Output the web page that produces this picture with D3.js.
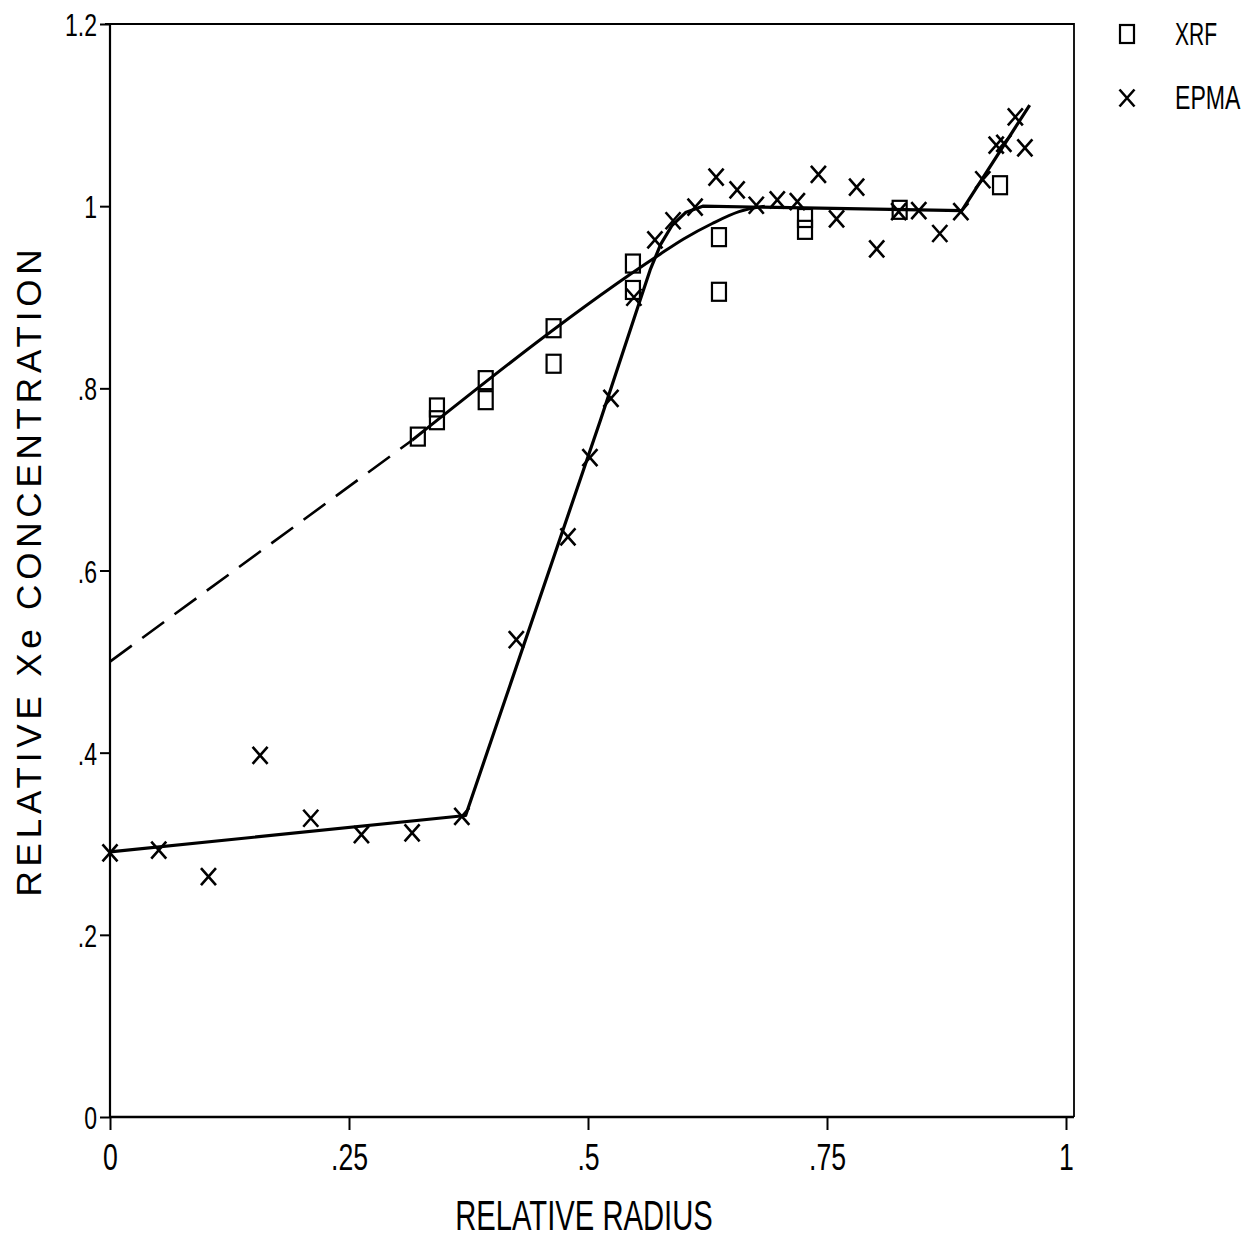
<!DOCTYPE html>
<html>
<head>
<meta charset="utf-8">
<script src="https://cdn.jsdelivr.net/npm/d3@7"></script>
<style>
  body { margin: 0; background: #fff; }
  svg { display: block; }
  text { font-family: "Liberation Sans", Arial, sans-serif; fill: #000; }
  .domain { display: none; }
</style>
</head>
<body>
<div id="graphic"></div>
<script>
// tick values and labels
var xTicks = [0, 0.25, 0.5, 0.75, 1];
var xTickLabels = ["0", ".25", ".5", ".75", "1"];
var yTicks = [0, 0.2, 0.4, 0.6, 0.8, 1, 1.2];
var yTickLabels = ["0", ".2", ".4", ".6", ".8", "1", "1.2"];

// XRF measurements (squares)
var xrfRadius = [0.322, 0.342, 0.342, 0.393, 0.393, 0.464, 0.464, 0.547, 0.547, 0.637, 0.637, 0.727, 0.727, 0.826, 0.931];
var xrfConc = [0.747, 0.779, 0.765, 0.809, 0.787, 0.866, 0.827, 0.937, 0.908, 0.966, 0.906, 0.987, 0.974, 0.996, 1.023];

// EPMA measurements (crosses)
var epmaRadius = [0, 0.051, 0.103, 0.157, 0.210, 0.263, 0.316, 0.368, 0.425, 0.479, 0.502, 0.524, 0.548, 0.570, 0.589,
  0.612, 0.634, 0.656, 0.676, 0.698, 0.719, 0.741, 0.760, 0.781, 0.802, 0.825, 0.846, 0.868, 0.890, 0.913, 0.927, 0.935, 0.947, 0.957];
var epmaConc = [0.290, 0.293, 0.264, 0.397, 0.328, 0.310, 0.312, 0.330, 0.524, 0.637, 0.724, 0.789, 0.900, 0.963, 0.984,
  0.999, 1.032, 1.018, 1.001, 1.007, 1.005, 1.035, 0.986, 1.021, 0.953, 0.994, 0.995, 0.970, 0.994, 1.029, 1.067, 1.069, 1.098, 1.064];

// fitted curves
var xrfDashRadius = [0, 0.316];
var xrfDashConc = [0.500, 0.743];
var xrfFitRadius = [0.316, 0.575, 0.600, 0.630, 0.658, 0.685];
var xrfFitConc = [0.743, 0.947, 0.964, 0.981, 0.994, 1.000];
var epmaFitRadius = [0, 0.372, 0.513, 0.553, 0.565, 0.576, 0.588, 0.602, 0.620, 0.891, 0.962];
var epmaFitConc = [0.291, 0.331, 0.765, 0.892, 0.930, 0.958, 0.979, 0.993, 1.000, 0.995, 1.111];

var legendLabels = ["XRF", "EPMA"];

var width = 1257, height = 1240;
var margin = { top: 24, right: 191, bottom: 123, left: 110 };
var chart_width = width - margin.left - margin.right;
var chart_height = height - margin.top - margin.bottom;

// the scanned lettering is condensed, so squeeze the glyphs horizontally
var narrow = 0.72;

var svg = d3.select('#graphic').append('svg')
  .attr('width', width)
  .attr('height', height);

var g = svg.append('g')
  .attr('transform', 'translate(' + margin.left + ',' + margin.top + ')');

var x = d3.scaleLinear().domain([0, 1]).range([0, chart_width]);
var y = d3.scaleLinear().domain([0, 1.2]).range([chart_height, 0]);

// frame: left axis, bottom axis, top and right edges
g.append('path')
  .attr('d', 'M' + (x(1) + 8) + ',' + y(0) + 'V' + y(1.2) + 'H-5')
  .attr('fill', 'none').attr('stroke', '#000').attr('stroke-width', 1.8);
g.append('line')
  .attr('x1', 0).attr('x2', 0).attr('y1', y(1.2)).attr('y2', y(0))
  .attr('stroke', '#000').attr('stroke-width', 2.2);
g.append('line')
  .attr('x1', 0).attr('x2', x(1) + 8).attr('y1', y(0)).attr('y2', y(0))
  .attr('stroke', '#000').attr('stroke-width', 2.6);

// axes
var yAxis = d3.axisLeft(y)
  .tickValues(yTicks)
  .tickFormat(function(d, i) { return yTickLabels[i]; })
  .tickSize(10)
  .tickPadding(8);
var yg = g.append('g').attr('class', 'y axis').call(yAxis);
yg.selectAll('line').attr('stroke', '#000').attr('stroke-width', 2);
yg.selectAll('text')
  .style('font-size', '32px')
  .attr('dy', '0.36em')
  .attr('transform', 'scale(' + narrow + ',1)');

var xAxis = d3.axisBottom(x)
  .tickValues(xTicks)
  .tickFormat(function(d, i) { return xTickLabels[i]; })
  .tickSize(13)
  .tickPadding(14);
var xg = g.append('g').attr('class', 'x axis')
  .attr('transform', 'translate(0,' + chart_height + ')')
  .call(xAxis);
xg.selectAll('line').attr('stroke', '#000').attr('stroke-width', 2);
xg.selectAll('text')
  .style('font-size', '37px')
  .attr('transform', 'scale(' + narrow + ',1)');

// axis titles
svg.append('text')
  .attr('transform', 'translate(584,1230) scale(0.68,1)')
  .attr('text-anchor', 'middle')
  .style('font-size', '43px')
  .text('RELATIVE RADIUS');

svg.append('text')
  .attr('transform', 'translate(41,573) rotate(-90)')
  .attr('text-anchor', 'middle')
  .attr('textLength', 647).attr('lengthAdjust', 'spacing')
  .style('font-size', '35px')
  .text('RELATIVE Xe CONCENTRATION');

// fitted lines
var line = d3.line()
  .x(function(d) { return x(d[0]); })
  .y(function(d) { return y(d[1]); });

g.append('path')
  .datum(d3.zip(xrfDashRadius, xrfDashConc))
  .attr('d', line)
  .attr('fill', 'none').attr('stroke', '#000').attr('stroke-width', 2.6)
  .attr('stroke-dasharray', '27,13');

g.append('path')
  .datum(d3.zip(xrfFitRadius, xrfFitConc))
  .attr('d', line.curve(d3.curveMonotoneX))
  .attr('fill', 'none').attr('stroke', '#000').attr('stroke-width', 3);

g.append('path')
  .datum(d3.zip(epmaFitRadius, epmaFitConc))
  .attr('d', line.curve(d3.curveLinear))
  .attr('fill', 'none').attr('stroke', '#000').attr('stroke-width', 3.2)
  .attr('stroke-linejoin', 'round');

// marker shapes
var sqW = 14, sqH = 18, crW = 15, crH = 17;
function crossPath(cx, cy) {
  return 'M' + (cx - crW / 2) + ',' + (cy - crH / 2) + 'L' + (cx + crW / 2) + ',' + (cy + crH / 2) +
    'M' + (cx + crW / 2) + ',' + (cy - crH / 2) + 'L' + (cx - crW / 2) + ',' + (cy + crH / 2);
}

g.selectAll('rect.xrf')
  .data(d3.zip(xrfRadius, xrfConc))
  .join('rect')
  .attr('class', 'xrf')
  .attr('x', function(d) { return x(d[0]) - sqW / 2; })
  .attr('y', function(d) { return y(d[1]) - sqH / 2; })
  .attr('width', sqW).attr('height', sqH)
  .attr('fill', 'none').attr('stroke', '#000').attr('stroke-width', 2.2);

g.selectAll('path.epma')
  .data(d3.zip(epmaRadius, epmaConc))
  .join('path')
  .attr('class', 'epma')
  .attr('d', function(d) { return crossPath(x(d[0]), y(d[1])); })
  .attr('fill', 'none').attr('stroke', '#000').attr('stroke-width', 2.6);

// legend
var legend = svg.append('g').attr('class', 'legend');
var legendRows = legend.selectAll('g')
  .data(legendLabels)
  .join('g')
  .attr('transform', function(d, i) { return 'translate(1127,' + (34 + i * 62) + ')'; });

legendRows.filter(function(d, i) { return i == 0; })
  .append('rect')
  .attr('x', -7).attr('y', -9).attr('width', 14).attr('height', 18)
  .attr('fill', 'none').attr('stroke', '#000').attr('stroke-width', 2.2);

legendRows.filter(function(d, i) { return i == 1; })
  .append('path')
  .attr('d', crossPath(0, 2))
  .attr('fill', 'none').attr('stroke', '#000').attr('stroke-width', 2.6);

legendRows.append('text')
  .attr('transform', function(d, i) { return 'translate(48,' + (i == 0 ? 11 : 13) + ') scale(0.68,1)'; })
  .style('font-size', function(d, i) { return i == 0 ? '31px' : '34px'; })
  .text(function(d) { return d; });
</script>
</body>
</html>
